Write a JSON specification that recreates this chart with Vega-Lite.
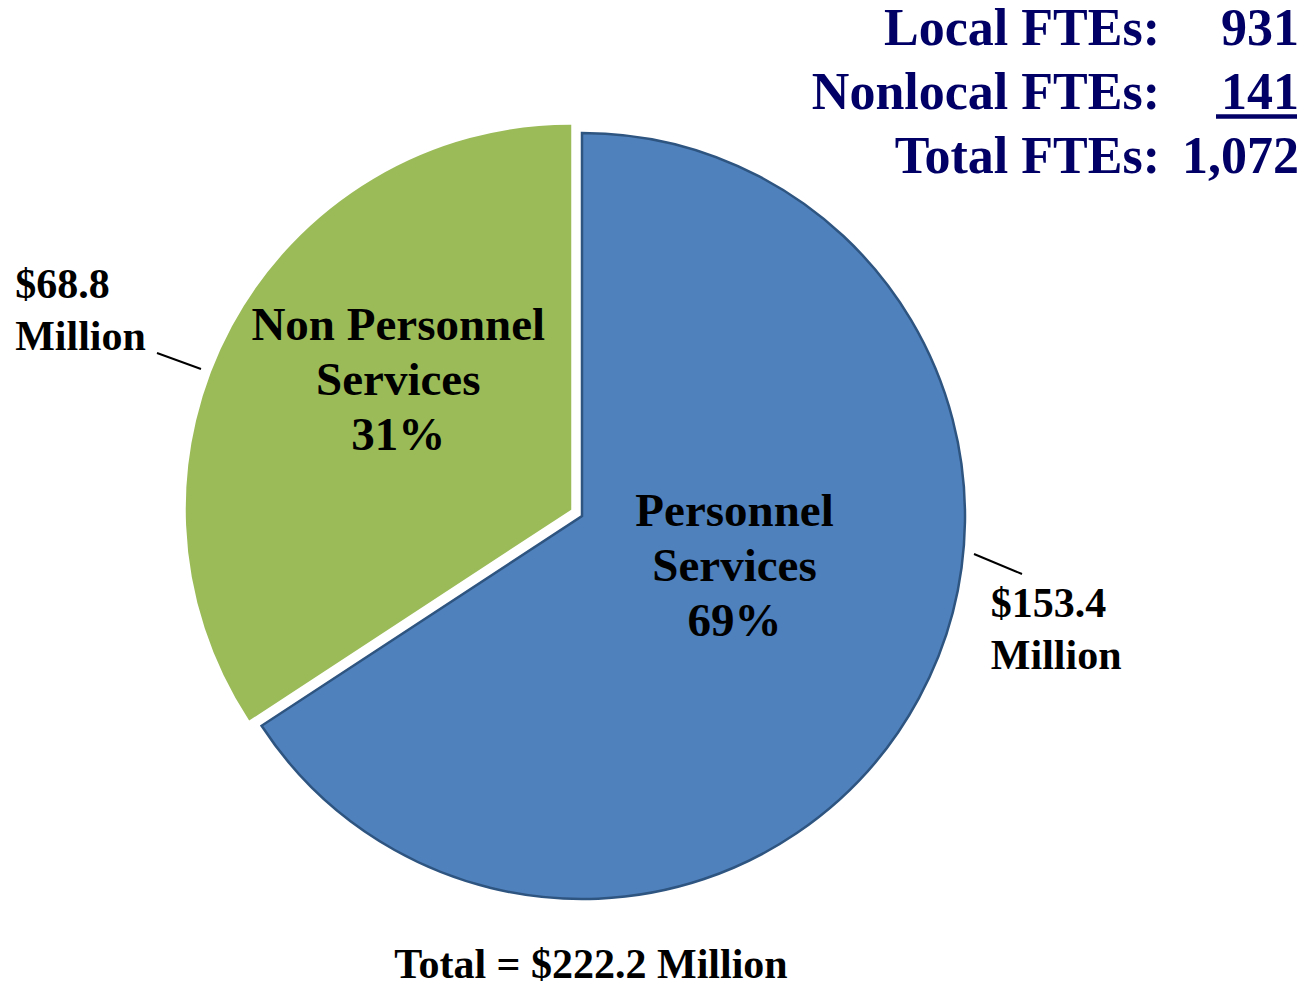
{
  "$schema": "https://vega.github.io/schema/vega-lite/v6.json",
  "width": 1164,
  "height": 942,
  "autosize": {"type": "none"},
  "padding": {"left": 0, "top": 45, "right": 144, "bottom": 0},
  "background": "white",
  "config": {"view": {"stroke": null}},
  "title": {
    "text": "Total = $222.2 Million",
    "orient": "bottom",
    "anchor": "middle",
    "font": "Liberation Serif",
    "fontSize": 42,
    "fontWeight": "bold",
    "color": "black",
    "baseline": "alphabetic",
    "offset": -9,
    "dx": 9
  },
  "datasets": {
    "slices": [
      {"category": "Personnel Services", "amount": 153.4, "order": 1, "label": "Personnel\nServices\n69%", "amount_label": "$153.4\nMillion"},
      {"category": "Non Personnel Services", "amount": 68.8, "order": 2, "label": "Non Personnel\nServices\n31%", "amount_label": "$68.8\nMillion"}
    ],
    "ftes": [
      {"order": 1, "label": "Local FTEs:", "value": "931"},
      {"order": 2, "label": "Nonlocal FTEs:", "value": "141"},
      {"order": 3, "label": "Total FTEs:", "value": "1,072"}
    ]
  },
  "resolve": {"scale": {"theta": "independent"}},
  "layer": [
    {
      "data": {"name": "slices"},
      "mark": {
        "type": "arc",
        "radius": 383,
        "strokeWidth": 2.5,
        "xOffset": {"expr": "datum.order == 2 ? -12 : 0"},
        "yOffset": {"expr": "datum.order == 2 ? -7 : 0"}
      },
      "encoding": {
        "theta": {"field": "amount", "type": "quantitative", "stack": true, "scale": {"type": "pow", "exponent": 1.1307, "domain": [0, 222.2]}},
        "order": {"field": "order", "type": "quantitative"},
        "color": {
          "field": "category",
          "type": "nominal",
          "scale": {"domain": ["Personnel Services", "Non Personnel Services"], "range": ["#4F81BD", "#9BBB59"]},
          "legend": null
        },
        "stroke": {
          "field": "category",
          "type": "nominal",
          "scale": {"domain": ["Personnel Services", "Non Personnel Services"], "range": ["#2E5480", "#9BBB59"]},
          "legend": null
        }
      }
    },
    {
      "data": {"name": "slices"},
      "mark": {
        "type": "text",
        "font": "Liberation Serif",
        "fontSize": 47,
        "fontWeight": "bold",
        "lineBreak": "\n",
        "lineHeight": 55,
        "align": "center",
        "baseline": "middle",
        "color": "black",
        "radius": {"expr": "datum.order == 1 ? 152.6 : 264.3"},
        "thetaOffset": {"expr": "datum.order == 1 ? -0.627 : 0.204"}
      },
      "encoding": {
        "theta": {"field": "amount", "type": "quantitative", "stack": true},
        "order": {"field": "order", "type": "quantitative"},
        "text": {"field": "label", "type": "nominal"}
      }
    },
    {
      "data": {"name": "slices"},
      "mark": {
        "type": "text",
        "font": "Liberation Serif",
        "fontSize": 42,
        "fontWeight": "bold",
        "lineBreak": "\n",
        "lineHeight": 52,
        "align": "left",
        "baseline": "middle",
        "color": "black",
        "radius": {"expr": "datum.order == 1 ? 418.2 : 612.1"},
        "thetaOffset": {"expr": "datum.order == 1 ? -0.386 : -0.211"}
      },
      "encoding": {
        "theta": {"field": "amount", "type": "quantitative", "stack": true},
        "order": {"field": "order", "type": "quantitative"},
        "text": {"field": "amount_label", "type": "nominal"}
      }
    },
    {
      "data": {"values": [{"side": "left"}]},
      "mark": {"type": "rule", "color": "black", "strokeWidth": 2},
      "encoding": {
        "x": {"value": 157},
        "y": {"value": 308},
        "x2": {"value": 201},
        "y2": {"value": 324}
      }
    },
    {
      "data": {"values": [{"side": "right"}]},
      "mark": {"type": "rule", "color": "black", "strokeWidth": 2},
      "encoding": {
        "x": {"value": 974},
        "y": {"value": 509},
        "x2": {"value": 1022},
        "y2": {"value": 529}
      }
    },
    {
      "data": {"name": "ftes"},
      "mark": {
        "type": "text",
        "font": "Liberation Serif",
        "fontSize": 52,
        "fontWeight": "bold",
        "align": "right",
        "baseline": "alphabetic",
        "color": "#000066"
      },
      "encoding": {
        "x": {"value": 1160},
        "y": {"field": "order", "type": "quantitative", "scale": {"domain": [1, 3], "range": [0, 128]}, "axis": null},
        "text": {"field": "label", "type": "nominal"}
      }
    },
    {
      "data": {"name": "ftes"},
      "mark": {
        "type": "text",
        "font": "Liberation Serif",
        "fontSize": 52,
        "fontWeight": "bold",
        "align": "right",
        "baseline": "alphabetic",
        "color": "#000066"
      },
      "encoding": {
        "x": {"value": 1299},
        "y": {"field": "order", "type": "quantitative", "scale": {"domain": [1, 3], "range": [0, 128]}, "axis": null},
        "text": {"field": "value", "type": "nominal"}
      }
    },
    {
      "data": {"values": [{"order": 2}]},
      "mark": {"type": "rule", "color": "#000066", "strokeWidth": 4.5, "yOffset": 7.5},
      "encoding": {
        "x": {"value": 1216},
        "x2": {"value": 1297},
        "y": {"field": "order", "type": "quantitative", "scale": {"domain": [1, 3], "range": [0, 128]}, "axis": null}
      }
    }
  ]
}
